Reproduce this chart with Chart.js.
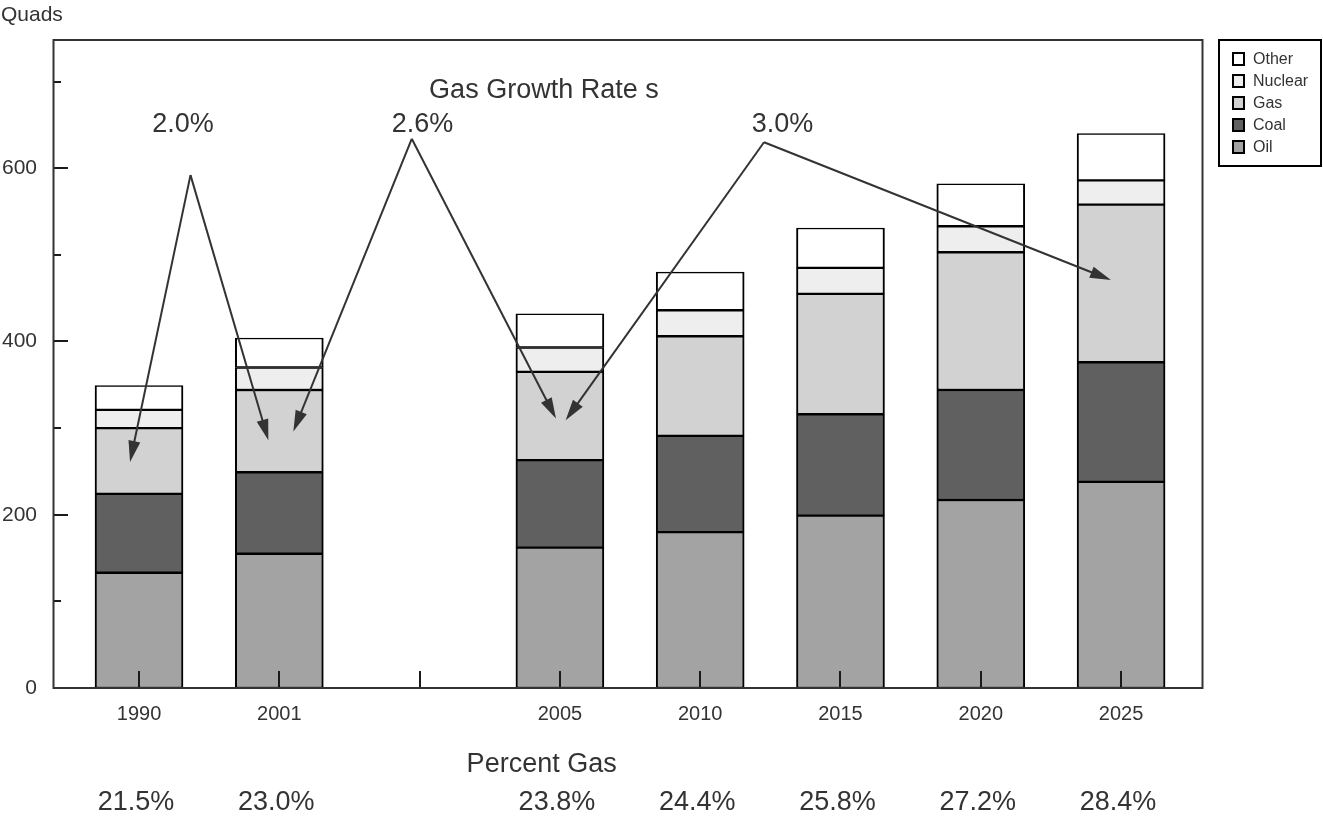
<!DOCTYPE html>
<html>
<head>
<meta charset="utf-8">
<script src="https://cdn.jsdelivr.net/npm/chart.js@4"></script>
<style>
  html, body { margin: 0; padding: 0; background: #fff; }
  #wrap { width: 1323px; height: 825px; }
</style>
</head>
<body>
<div id="wrap"><canvas id="c" width="1323" height="825"></canvas></div>
<script>
// ---- data ----
const categories = ['1990', '2001', '', '2005', '2010', '2015', '2020', '2025'];
const oil     = [133, 155, null, 162, 180, 199, 217, 238];
const coal    = [ 91,  94, null, 101, 111, 117, 127, 138];
const gas     = [ 76,  95, null, 102, 115, 139, 159, 182];
const nuclear = [ 21,  26, null,  28,  30,  30,  30,  28];
const other   = [ 28,  34, null,  39,  44,  46,  49,  54];
const percentGas = ['21.5%', '23.0%', '', '23.8%', '24.4%', '25.8%', '27.2%', '28.4%'];
const yTicks = [0, 100, 200, 300, 400, 500, 600, 700];
const yLabelled = [0, 200, 400, 600];

// growth-rate annotations (x in category units, y in quads)
const growthLabels = ['2.0%', '2.6%', '3.0%'];
const growthLabelX = [0.314, 2.02, 4.587];
const growthApexX = [0.367, 1.944, 4.455];
const growthApexY = [592, 634, 630];
const growthLeftX = [-0.064, 1.10, 3.041];
const growthLeftY = [261, 296, 309];
const growthRightX = [0.922, 2.972, 6.928];
const growthRightY = [286, 311, 471];

const FONT = "'Liberation Sans', Arial, sans-serif";
const TXT = '#333333';

function pts(arr) {
  const out = [];
  arr.forEach((v, i) => { if (v !== null) out.push({ x: i, y: v }); });
  return out;
}
function ds(label, arr, color) {
  return {
    label, data: pts(arr), backgroundColor: color, borderColor: '#000',
    borderWidth: { left: 2, right: 2, top: 1.5, bottom: 1.5 },
    borderSkipped: false, barThickness: 88
  };
}

const decor = {
  id: 'decor',
  afterDatasetsDraw(chart) {
    const ctx = chart.ctx, x = chart.scales.x, y = chart.scales.y, a = chart.chartArea;
    ctx.save();
    // inner category ticks at bottom
    ctx.strokeStyle = '#1a1a1a'; ctx.lineWidth = 2;
    categories.forEach((c, i) => {
      const px = Math.round(x.getPixelForValue(i)) ;
      ctx.beginPath(); ctx.moveTo(px, a.bottom); ctx.lineTo(px, a.bottom - 17); ctx.stroke();
    });
    // inner y ticks
    yTicks.forEach(v => {
      if (v === 0) return;
      const py = Math.round(y.getPixelForValue(v));
      const len = yLabelled.includes(v) ? 14 : 7;
      ctx.beginPath(); ctx.moveTo(a.left, py); ctx.lineTo(a.left + len, py); ctx.stroke();
    });
    // arrows
    const arrow = (x0, y0, x1, y1) => {
      const X0 = x.getPixelForValue(x0), Y0 = y.getPixelForValue(y0);
      const X1 = x.getPixelForValue(x1), Y1 = y.getPixelForValue(y1);
      const ang = Math.atan2(Y1 - Y0, X1 - X0);
      const L = 21, W = 6;
      ctx.strokeStyle = TXT; ctx.fillStyle = TXT; ctx.lineWidth = 2;
      ctx.beginPath(); ctx.moveTo(X0, Y0);
      ctx.lineTo(X1 - Math.cos(ang) * (L - 2), Y1 - Math.sin(ang) * (L - 2)); ctx.stroke();
      ctx.beginPath();
      ctx.moveTo(X1, Y1);
      ctx.lineTo(X1 - Math.cos(ang) * L - Math.sin(ang) * W, Y1 - Math.sin(ang) * L + Math.cos(ang) * W);
      ctx.lineTo(X1 - Math.cos(ang) * L + Math.sin(ang) * W, Y1 - Math.sin(ang) * L - Math.cos(ang) * W);
      ctx.closePath(); ctx.fill();
    };
    growthLabels.forEach((g, i) => {
      arrow(growthApexX[i], growthApexY[i], growthLeftX[i], growthLeftY[i]);
      arrow(growthApexX[i], growthApexY[i], growthRightX[i], growthRightY[i]);
    });
    ctx.restore();
  },
  afterDraw(chart) {
    const ctx = chart.ctx, x = chart.scales.x, y = chart.scales.y, a = chart.chartArea;
    ctx.save();
    // frame
    ctx.strokeStyle = TXT; ctx.lineWidth = 2;
    ctx.strokeRect(a.left - 0.5, a.top, a.right - a.left, a.bottom - a.top);
    // texts
    ctx.fillStyle = TXT;
    ctx.textBaseline = 'alphabetic';
    ctx.textAlign = 'left';
    ctx.font = '21px ' + FONT;
    ctx.fillText('Quads', 1, 21);
    ctx.textAlign = 'center';
    ctx.font = '27px ' + FONT;
    ctx.fillText('Gas Growth Rate s', x.getPixelForValue(2.886), 98);
    growthLabels.forEach((g, i) => {
      ctx.fillText(g, x.getPixelForValue(growthLabelX[i]), 132);
    });
    ctx.fillText('Percent Gas', x.getPixelForValue(2.87), 772);
    percentGas.forEach((p, i) => {
      if (p) ctx.fillText(p, x.getPixelForValue(i) - 3, 810);
    });
    // legend
    const lx = 1219, ly = 40, lw = 102, lh = 126;
    ctx.strokeStyle = '#000'; ctx.lineWidth = 2;
    ctx.strokeRect(lx, ly, lw, lh);
    const items = chart.data.datasets.slice().reverse();
    ctx.font = '16px ' + FONT;
    ctx.textAlign = 'left';
    ctx.textBaseline = 'middle';
    items.forEach((d, i) => {
      const cy = 59 + i * 22;
      ctx.fillStyle = d.backgroundColor;
      ctx.fillRect(1233, cy - 6, 11, 12);
      ctx.strokeStyle = '#000'; ctx.lineWidth = 2;
      ctx.strokeRect(1233, cy - 6, 11, 12);
      ctx.fillStyle = TXT;
      ctx.fillText(d.label, 1253, cy + 1);
    });
    ctx.restore();
  }
};

new Chart(document.getElementById('c'), {
  type: 'bar',
  data: {
    datasets: [
      ds('Oil', oil, '#a3a3a3'),
      ds('Coal', coal, '#606060'),
      ds('Gas', gas, '#d2d2d2'),
      ds('Nuclear', nuclear, '#eeeeee'),
      ds('Other', other, '#ffffff')
    ]
  },
  options: {
    responsive: false,
    animation: false,
    devicePixelRatio: 1,
    layout: { padding: { left: 0, top: 40, right: 120, bottom: 0 } },
    plugins: { legend: { display: false }, tooltip: { enabled: false } },
    scales: {
      x: {
        type: 'linear', stacked: true, min: -0.606, max: 7.584, offset: false,
        grid: { display: false, drawTicks: false, offset: false }, border: { display: false },
        afterBuildTicks: s => { s.ticks = categories.map((c, i) => ({ value: i })); },
        afterFit: s => { s.height = 137; },
        ticks: {
          padding: 14, color: TXT, font: { family: FONT, size: 20 },
          maxRotation: 0, autoSkip: false,
          callback: v => categories[v] ?? ''
        }
      },
      y: {
        stacked: true, min: 0, max: 748,
        grid: { display: false, drawTicks: false }, border: { display: false },
        afterBuildTicks: s => { s.ticks = yTicks.map(v => ({ value: v })); },
        afterFit: s => { s.width = 54; },
        ticks: {
          padding: 17, color: TXT, font: { family: FONT, size: 21 },
          callback: v => yLabelled.includes(v) ? String(v) : ''
        }
      }
    }
  },
  plugins: [decor]
});
</script>
</body>
</html>
